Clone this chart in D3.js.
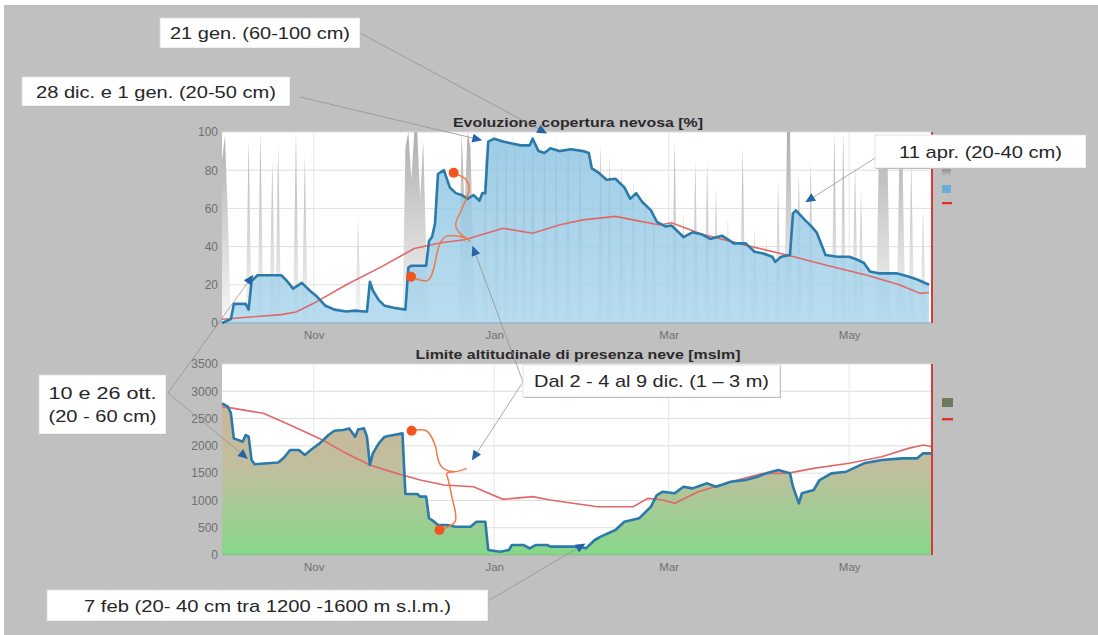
<!DOCTYPE html>
<html>
<head>
<meta charset="utf-8">
<script src="https://cdn.jsdelivr.net/npm/d3@7"></script>
<style>
  body { margin: 0; background: #fff; }
  svg { display: block; font-family: "Liberation Sans", Arial, sans-serif; }
</style>
</head>
<body>
<svg id="chart" width="1098" height="635"></svg>
<script>
// ---------- data ----------
const seasonRange = ["2013-10-01", "2014-05-29"];
const monthTicks = ["2013-11-01", "2014-01-01", "2014-03-01", "2014-05-01"];
const monthLabels = ["Nov", "Jan", "Mar", "May"];
const coverTicks = [0, 20, 40, 60, 80, 100];
const limitTicks = [0, 500, 1000, 1500, 2000, 2500, 3000, 3500];

// snow cover [%], current season
const coverSeries = [
  ["2013-10-01",0],["2013-10-04",2],["2013-10-05",10],["2013-10-09",10],["2013-10-10",7],
  ["2013-10-11",22],["2013-10-13",25],["2013-10-21",25],["2013-10-23",22],["2013-10-25",18],
  ["2013-10-28",21],["2013-10-31",16.5],["2013-11-02",14],["2013-11-05",9],["2013-11-08",7],
  ["2013-11-12",6],["2013-11-15",6.5],["2013-11-18",6],["2013-11-19",6],["2013-11-20",21.6],
  ["2013-11-21",17],["2013-11-23",12],["2013-11-25",9],["2013-11-28",8],["2013-12-02",7],
  ["2013-12-03",29],["2013-12-04",30],["2013-12-09",30],["2013-12-10",43],["2013-12-11",45],
  ["2013-12-12",52],["2013-12-13",78],["2013-12-15",80],["2013-12-17",71],["2013-12-19",68],
  ["2013-12-21",67],["2013-12-23",65],["2013-12-25",67],["2013-12-27",64],["2013-12-28",68],
  ["2013-12-29",68],["2013-12-30",95],["2014-01-01",96.5],["2014-01-04",95],["2014-01-07",94],
  ["2014-01-10",93],["2014-01-13",93],["2014-01-14",96.5],["2014-01-16",90],["2014-01-18",89],
  ["2014-01-20",91.5],["2014-01-23",90],["2014-01-27",91],["2014-01-31",90],["2014-02-02",89],
  ["2014-02-03",81],["2014-02-05",79],["2014-02-08",75],["2014-02-11",75.5],["2014-02-14",71],
  ["2014-02-16",65],["2014-02-18",68],["2014-02-20",63.5],["2014-02-23",59],["2014-02-25",53],
  ["2014-02-28",50.5],["2014-03-02",51],["2014-03-06",45],["2014-03-09",47.5],["2014-03-12",46.5],
  ["2014-03-15",44],["2014-03-19",45.7],["2014-03-23",41.7],["2014-03-27",41.7],["2014-03-30",37.3],
  ["2014-04-02",36.4],["2014-04-05",34.7],["2014-04-06",32],["2014-04-08",34.7],["2014-04-11",35.6],
  ["2014-04-12",57.4],["2014-04-13",59],["2014-04-16",54],["2014-04-18",51],["2014-04-20",47.5],
  ["2014-04-23",35.6],["2014-04-27",34.7],["2014-05-01",34.7],["2014-05-04",33],["2014-05-06",31.4],
  ["2014-05-08",27],["2014-05-11",26],["2014-05-17",26],["2014-05-21",24.4],["2014-05-24",22.8],
  ["2014-05-28",20]
];

// snow cover [%], long-term mean
const coverMeanSeries = [
  ["2013-10-01",2],["2013-10-21",4.4],["2013-10-26",5.8],["2013-11-01",10.3],["2013-11-12",20],
  ["2013-11-24",29.5],["2013-12-05",39],["2013-12-14",42],["2013-12-22",43.6],["2014-01-04",49.6],
  ["2014-01-14",47],["2014-01-23",51.3],["2014-01-31",54],["2014-02-11",55.8],["2014-02-17",54],
  ["2014-02-26",51.3],["2014-03-02",52.5],["2014-03-12",46.6],["2014-03-29",40],["2014-04-10",35.6],
  ["2014-04-23",30.4],["2014-05-07",25],["2014-05-18",20],["2014-05-25",15.5],["2014-05-28",16]
];

// cloud cover [%]
const cloudSeries = [
  ["2013-10-01",85],["2013-10-02",98],["2013-10-03",55],["2013-10-04",0],
  ["2013-10-09",0],["2013-10-10",96],["2013-10-11",0],
  ["2013-10-13",0],["2013-10-14",100],["2013-10-15",0],
  ["2013-10-17",0],["2013-10-18",85],["2013-10-19",0],["2013-10-20",93],["2013-10-21",0],
  ["2013-10-25",0],["2013-10-26",100],["2013-10-27",0],
  ["2013-10-28",0],["2013-10-29",88],["2013-10-30",0],
  ["2013-11-15",0],["2013-11-16",55],["2013-11-17",0],
  ["2013-12-01",0],["2013-12-02",92],["2013-12-03",100],["2013-12-04",75],["2013-12-05",100],
  ["2013-12-06",100],["2013-12-07",65],["2013-12-08",95],["2013-12-09",40],["2013-12-10",0],
  ["2013-12-20",0],["2013-12-21",100],["2013-12-22",60],["2013-12-23",100],["2013-12-24",92],
  ["2013-12-25",30],["2013-12-26",0],
  ["2013-12-28",0],["2013-12-29",92],["2013-12-30",0],
  ["2014-01-01",0],["2014-01-02",97],["2014-01-03",0],
  ["2014-01-04",0],["2014-01-05",98],["2014-01-06",0],
  ["2014-01-07",0],["2014-01-08",97],["2014-01-09",0],
  ["2014-01-10",0],["2014-01-11",96],["2014-01-12",0],
  ["2014-01-13",0],["2014-01-14",99],["2014-01-15",0],
  ["2014-01-17",0],["2014-01-18",95],["2014-01-19",0],
  ["2014-01-21",0],["2014-01-22",97],["2014-01-23",0],
  ["2014-01-25",0],["2014-01-26",96],["2014-01-27",0],
  ["2014-01-29",0],["2014-01-30",96],["2014-01-31",0],
  ["2014-02-05",0],["2014-02-06",94],["2014-02-07",0],
  ["2014-02-08",0],["2014-02-09",88],["2014-02-10",0],
  ["2014-02-12",0],["2014-02-13",82],["2014-02-14",0],
  ["2014-02-16",0],["2014-02-17",75],["2014-02-18",0],
  ["2014-02-20",0],["2014-02-21",70],["2014-02-22",0],
  ["2014-02-23",0],["2014-02-24",62],["2014-02-25",0],
  ["2014-03-02",0],["2014-03-03",96],["2014-03-04",0],
  ["2014-03-05",0],["2014-03-06",58],["2014-03-07",0],
  ["2014-03-09",0],["2014-03-10",85],["2014-03-11",0],
  ["2014-03-13",0],["2014-03-14",85],["2014-03-15",0],
  ["2014-03-16",0],["2014-03-17",71],["2014-03-18",0],
  ["2014-03-20",0],["2014-03-21",55],["2014-03-22",0],
  ["2014-03-25",0],["2014-03-26",92],["2014-03-27",0],
  ["2014-03-29",0],["2014-03-30",50],["2014-03-31",0],
  ["2014-04-02",0],["2014-04-03",45],["2014-04-04",0],
  ["2014-04-06",0],["2014-04-07",75],["2014-04-08",0],
  ["2014-04-09",0],["2014-04-10",100],["2014-04-11",100],["2014-04-12",0],
  ["2014-04-13",0],["2014-04-14",80],["2014-04-15",0],
  ["2014-04-17",0],["2014-04-18",85],["2014-04-19",0],
  ["2014-04-25",0],["2014-04-26",100],["2014-04-27",0],
  ["2014-04-28",0],["2014-04-29",100],["2014-04-30",0],
  ["2014-05-02",0],["2014-05-03",83],["2014-05-04",0],["2014-05-05",70],["2014-05-06",0],
  ["2014-05-10",0],["2014-05-11",85],["2014-05-12",80],["2014-05-13",85],["2014-05-14",82],["2014-05-15",0],
  ["2014-05-17",0],["2014-05-18",90],["2014-05-19",88],["2014-05-20",0],
  ["2014-05-21",0],["2014-05-22",85],["2014-05-23",0],
  ["2014-05-25",0],["2014-05-26",60],["2014-05-27",0],["2014-05-29",0]
];

// snow line altitude [m a.s.l.], current season
const limitSeries = [
  ["2013-10-01",2779],["2013-10-03",2717],["2013-10-04",2600],["2013-10-05",2137],["2013-10-08",2076],
  ["2013-10-09",2198],["2013-10-10",2168],["2013-10-11",1740],["2013-10-12",1664],["2013-10-20",1695],
  ["2013-10-22",1786],["2013-10-24",1924],["2013-10-27",1924],["2013-10-29",1832],["2013-10-31",1924],
  ["2013-11-03",2046],["2013-11-06",2198],["2013-11-08",2277],["2013-11-11",2290],["2013-11-13",2320],
  ["2013-11-15",2168],["2013-11-16",2300],["2013-11-18",2320],["2013-11-19",2168],["2013-11-20",1649],
  ["2013-11-21",1863],["2013-11-23",2046],["2013-11-25",2168],["2013-11-28",2198],["2013-12-01",2229],
  ["2013-12-02",1118],["2013-12-06",1118],["2013-12-07",1069],["2013-12-09",1069],["2013-12-10",672],
  ["2013-12-11",641],["2013-12-13",550],["2013-12-16",550],["2013-12-19",519],["2013-12-24",519],
  ["2013-12-26",610],["2013-12-29",610],["2013-12-30",92],["2014-01-03",61],["2014-01-06",92],
  ["2014-01-07",183],["2014-01-11",183],["2014-01-13",122],["2014-01-15",183],["2014-01-19",183],
  ["2014-01-20",153],["2014-01-30",153],["2014-02-01",122],["2014-02-04",275],["2014-02-06",336],
  ["2014-02-11",458],["2014-02-14",610],["2014-02-19",672],["2014-02-23",885],["2014-02-25",1099],
  ["2014-02-27",1160],["2014-03-03",1130],["2014-03-06",1252],["2014-03-09",1221],["2014-03-14",1313],
  ["2014-03-17",1252],["2014-03-22",1343],["2014-03-27",1374],["2014-03-31",1435],["2014-04-03",1496],
  ["2014-04-07",1557],["2014-04-11",1496],["2014-04-12",1252],["2014-04-14",947],["2014-04-15",1130],
  ["2014-04-19",1191],["2014-04-21",1374],["2014-04-25",1496],["2014-04-30",1527],["2014-05-06",1680],
  ["2014-05-12",1741],["2014-05-19",1771],["2014-05-24",1771],["2014-05-26",1863],["2014-05-29",1863]
];

// snow line altitude [m a.s.l.], long-term mean
const limitMeanSeries = [
  ["2013-10-01",2717],["2013-10-05",2687],["2013-10-15",2596],["2013-10-24",2382],["2013-11-04",2107],
  ["2013-11-12",1863],["2013-11-20",1649],["2013-11-29",1496],["2013-12-07",1374],["2013-12-15",1282],
  ["2013-12-25",1252],["2014-01-04",1020],["2014-01-14",1069],["2014-01-20",1008],["2014-01-24",977],
  ["2014-02-05",885],["2014-02-17",885],["2014-02-22",1038],["2014-02-27",1008],["2014-03-03",947],
  ["2014-03-11",1160],["2014-03-22",1343],["2014-04-02",1496],["2014-04-10",1496],["2014-04-19",1588],
  ["2014-05-01",1680],["2014-05-12",1801],["2014-05-21",1954],["2014-05-26",2015],["2014-05-29",1985]
];

// event notes: text, and arrow tips as [panel, date, value]
const noteTexts = [
  ["21 gen. (60-100 cm)"],
  ["28 dic. e 1 gen. (20-50 cm)"],
  ["11 apr. (20-40 cm)"],
  ["10 e 26 ott.", "(20 - 60 cm)"],
  ["Dal 2 - 4 al 9 dic. (1 \u2013 3 m)"],
  ["7 feb (20- 40 cm tra 1200 -1600 m s.l.m.)"]
];
const noteTargets = [
  [["cover", "2014-01-18", 100]],
  [["cover", "2013-12-27", 96]],
  [["cover", "2014-04-17", 64]],
  [["cover", "2013-10-11", 24], ["limit", "2013-10-09", 1795]],
  [["cover", "2013-12-25", 39], ["limit", "2013-12-25", 1777]],
  [["limit", "2014-01-31", 183]]
];

// hand-drawn bracket linking the December event on both panels: [day of season, value]
const bracketCover = [
  [[63.9,24.2],[69.7,22.5],[73.7,41.7],[75.9,45.5],[82.7,44.3],[83.8,42.6]],
  [[78.3,78.7],[82.6,74.9],[83.5,69.6],[80.9,59.2],[79,51.3],[80.4,47],[82.7,44.3]]
];
const bracketLimit = [
  [[64.1,2277],[69.2,2272],[72,2015],[73.1,1740],[74.3,1612],[78.2,1526],[82.7,1588]],
  [[73.5,458],[78.8,610],[77.7,1068],[76.5,1374],[76,1497],[78.2,1526]]
];

// ---------- layout ----------
const W = 1098, H = 635;
const plotX = [222, 932];
const coverY = [323, 132];
const limitY = [555, 364];
const noteBoxes = [
  {x: 160, y: 18, w: 200, h: 30, tw: 180},
  {x: 22, y: 77, w: 268, h: 29, tw: 240},
  {x: 875, y: 135, w: 211, h: 33, tw: 163},
  {x: 39, y: 375, w: 127, h: 59, tw: 108},
  {x: 523, y: 365, w: 257, h: 32, tw: 235},
  {x: 47, y: 590, w: 441, h: 31, tw: 367}
];
const noteFrom = [[360, 33], [300, 97], [875, 158], [168, 393], [523, 382], [488, 601]];

// ---------- drawing ----------
const parse = d3.timeParse("%Y-%m-%d");
const rows = s => s.map(([d, v]) => ({date: parse(d), v}));
const seasonStart = parse(seasonRange[0]);
const atDay = d => d3.timeMinute.offset(seasonStart, Math.round(d * 1440));

const svg = d3.select("#chart");
svg.append("rect").attr("width", W).attr("height", H).attr("fill", "#ffffff");
svg.append("rect").attr("x", 4).attr("y", 5).attr("width", W - 4).attr("height", H - 5).attr("fill", "#c0c0c0");

const x = d3.scaleTime().domain(seasonRange.map(parse)).range(plotX);
const yCover = d3.scaleLinear().domain([0, 100]).range(coverY);
const yLimit = d3.scaleLinear().domain([0, 3500]).range(limitY);

const defs = svg.append("defs");
function vGrad(id, y1, y2, stops) {
  const g = defs.append("linearGradient").attr("id", id)
    .attr("gradientUnits", "userSpaceOnUse").attr("x1", 0).attr("x2", 0).attr("y1", y1).attr("y2", y2);
  stops.forEach(([o, c]) => g.append("stop").attr("offset", o).attr("stop-color", c));
}
vGrad("cloudFill", yCover(100), yCover(0), [[0, "#b0b0b0"], [0.5, "#d4d4d4"], [1, "#f6f6f6"]]);
vGrad("coverFill", yCover(100), yCover(0), [[0, "#86c0e0"], [1, "#a8d4eb"]]);
vGrad("limitFill", yLimit(2900), yLimit(0), [[0, "#cdb497"], [0.45, "#c0bf9e"], [1, "#86d88a"]]);
vGrad("legendCloud", 166, 176, [[0, "#7c7c7c"], [1, "#c0c0c0"]]);

function panel(y, ticks, title, titleLen) {
  const g = svg.append("g");
  g.append("rect").attr("x", plotX[0]).attr("y", y.range()[1])
    .attr("width", plotX[1] - plotX[0]).attr("height", y.range()[0] - y.range()[1]).attr("fill", "#ffffff");
  g.append("g").selectAll("line").data(ticks).join("line")
    .attr("x1", plotX[0]).attr("x2", plotX[1]).attr("y1", d => y(d)).attr("y2", d => y(d))
    .attr("stroke", "#dedede").attr("stroke-width", 1);
  g.append("g").selectAll("line").data(monthTicks.map(parse)).join("line")
    .attr("x1", d => x(d)).attr("x2", d => x(d)).attr("y1", y.range()[1]).attr("y2", y.range()[0])
    .attr("stroke", "#e6e6e6").attr("stroke-width", 1);
  // y axis
  const ya = g.append("g").attr("transform", `translate(${plotX[0] - 2},0)`)
    .call(d3.axisLeft(y).tickValues(ticks).tickSize(0).tickPadding(2).tickFormat(d3.format("d")));
  ya.select(".domain").remove();
  ya.selectAll("text").attr("fill", "#707070").attr("font-size", 12)
    .attr("font-family", "Liberation Sans, Arial, sans-serif");
  // x axis
  const xa = g.append("g").attr("transform", `translate(0,${y.range()[0]})`)
    .call(d3.axisBottom(x).tickValues(monthTicks.map(parse)).tickSize(0).tickPadding(8)
      .tickFormat((d, i) => monthLabels[i]));
  xa.select(".domain").remove();
  xa.selectAll("text").attr("fill", "#707070").attr("font-size", 11.5)
    .attr("font-family", "Liberation Sans, Arial, sans-serif");
  svg.append("text").attr("x", (plotX[0] + plotX[1]) / 2 + 1).attr("y", y.range()[1] - 5)
    .attr("text-anchor", "middle").attr("font-weight", "bold").attr("font-size", 13.5)
    .attr("fill", "#2a2a2a").attr("textLength", titleLen).attr("lengthAdjust", "spacingAndGlyphs")
    .text(title);
  return g;
}

// ---- upper panel: snow cover ----
const gTop = panel(yCover, coverTicks, "Evoluzione copertura nevosa [%]", 250);
const areaC = d3.area().x(d => x(d.date)).y0(yCover(0)).y1(d => yCover(d.v));
const lineC = d3.line().x(d => x(d.date)).y(d => yCover(d.v));
gTop.append("path").datum(rows(cloudSeries)).attr("d", areaC).attr("fill", "url(#cloudFill)");
gTop.append("path").datum(rows(coverSeries)).attr("d", areaC)
  .attr("fill", "url(#coverFill)").attr("fill-opacity", 0.8);
gTop.append("line").attr("x1", plotX[0]).attr("x2", plotX[1]).attr("y1", yCover(0)).attr("y2", yCover(0))
  .attr("stroke", "#7fa3c4").attr("stroke-width", 1);
gTop.append("path").datum(rows(coverMeanSeries)).attr("d", lineC)
  .attr("fill", "none").attr("stroke", "#e06868").attr("stroke-width", 1.6);
gTop.append("path").datum(rows(coverSeries)).attr("d", lineC)
  .attr("fill", "none").attr("stroke", "#2a7aaa").attr("stroke-width", 2.6).attr("stroke-linejoin", "round");

// ---- lower panel: snow line ----
const gBot = panel(yLimit, limitTicks, "Limite altitudinale di presenza neve [mslm]", 325);
const areaL = d3.area().x(d => x(d.date)).y0(yLimit(0)).y1(d => yLimit(d.v));
const lineL = d3.line().x(d => x(d.date)).y(d => yLimit(d.v));
gBot.append("path").datum(rows(limitSeries)).attr("d", areaL).attr("fill", "url(#limitFill)");
gBot.append("line").attr("x1", plotX[0]).attr("x2", plotX[1]).attr("y1", yLimit(0)).attr("y2", yLimit(0))
  .attr("stroke", "#8ab08a").attr("stroke-width", 1);
gBot.append("path").datum(rows(limitMeanSeries)).attr("d", lineL)
  .attr("fill", "none").attr("stroke", "#e06868").attr("stroke-width", 1.6);
gBot.append("path").datum(rows(limitSeries)).attr("d", lineL)
  .attr("fill", "none").attr("stroke", "#2a7aaa").attr("stroke-width", 2.6).attr("stroke-linejoin", "round");

// end-of-record markers
[yCover, yLimit].forEach(y => {
  svg.append("line").attr("x1", plotX[1]).attr("x2", plotX[1])
    .attr("y1", y.range()[1]).attr("y2", y.range()[0])
    .attr("stroke", "#d83a3a").attr("stroke-width", 2);
});

// bracket annotation
const bracketLine = y => d3.line().curve(d3.curveCatmullRom.alpha(0.5))
  .x(p => x(atDay(p[0]))).y(p => y(p[1]));
const br = svg.append("g");
[[bracketCover, yCover], [bracketLimit, yLimit]].forEach(([paths, y]) => {
  paths.forEach(p => br.append("path").attr("d", bracketLine(y)(p))
    .attr("fill", "none").attr("stroke", "#ee7a45").attr("stroke-width", 1.5));
  paths.forEach(p => br.append("circle").attr("cx", x(atDay(p[0][0]))).attr("cy", y(p[0][1]))
    .attr("r", 5).attr("fill", "#f2551e"));
});

// notes with leader lines and arrowheads
const notes = svg.append("g");
noteTargets.forEach((targets, i) => {
  const [fx, fy] = noteFrom[i];
  targets.forEach(([panelName, d, v]) => {
    const y = panelName === "cover" ? yCover : yLimit;
    const tx = x(parse(d)), ty = y(v);
    notes.append("line").attr("x1", fx).attr("y1", fy).attr("x2", tx).attr("y2", ty)
      .attr("stroke", "#8f8f8f").attr("stroke-opacity", 0.75).attr("stroke-width", 1);
    const ang = Math.atan2(ty - fy, tx - fx) * 180 / Math.PI;
    notes.append("path").attr("d", "M3,0L-7,-4.5L-7,4.5Z")
      .attr("transform", `translate(${tx},${ty}) rotate(${ang})`)
      .attr("fill", "#2563a6");
  });
});
noteTexts.forEach((lines, i) => {
  const b = noteBoxes[i];
  notes.append("rect").attr("x", b.x + 1).attr("y", b.y + 1).attr("width", b.w).attr("height", b.h)
    .attr("fill", "#a9a9a9");
  notes.append("rect").attr("x", b.x).attr("y", b.y).attr("width", b.w).attr("height", b.h)
    .attr("fill", "#ffffff").attr("stroke", "#dcdcdc").attr("stroke-width", 0.8);
  const n = lines.length;
  lines.forEach((t, k) => {
    notes.append("text")
      .attr("x", b.x + b.w / 2)
      .attr("y", b.y + b.h / 2 + (k - (n - 1) / 2) * 23 + 6)
      .attr("text-anchor", "middle").attr("font-size", 17).attr("fill", "#262626")
      .attr("textLength", b.tw).attr("lengthAdjust", "spacingAndGlyphs")
      .text(t);
  });
});

// legends
const lg = svg.append("g");
lg.append("rect").attr("x", 942).attr("y", 169).attr("width", 9).attr("height", 7).attr("fill", "url(#legendCloud)");
lg.append("rect").attr("x", 942).attr("y", 185).attr("width", 9).attr("height", 8).attr("fill", "#6aaed4");
lg.append("rect").attr("x", 942).attr("y", 202).attr("width", 10).attr("height", 2.2).attr("fill", "#e03030");
lg.append("rect").attr("x", 942).attr("y", 398).attr("width", 11).attr("height", 9).attr("fill", "#6e7a5e");
lg.append("rect").attr("x", 942).attr("y", 418).attr("width", 11).attr("height", 2.4).attr("fill", "#e03030");
</script>
</body>
</html>
